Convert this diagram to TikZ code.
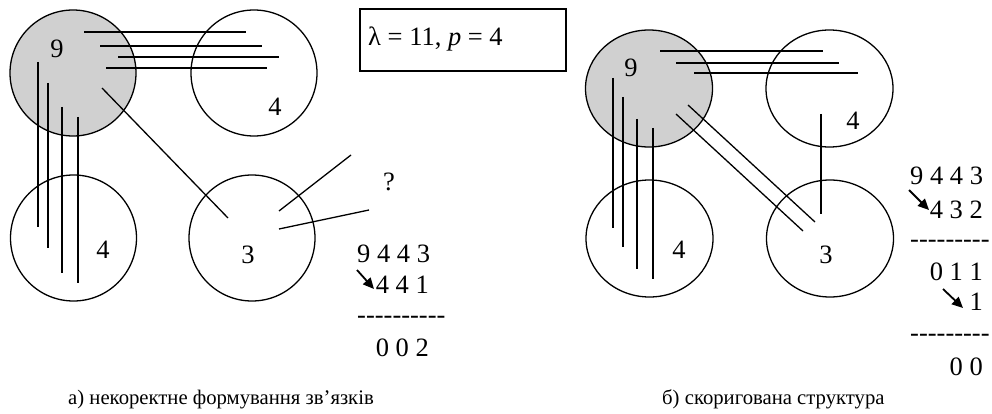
\documentclass[tikz,border=0pt]{standalone}
\usepackage{fontspec}
\setmainfont{Liberation Serif}[Ligatures=TeXOff]
\usetikzlibrary{shapes.geometric,arrows.meta}
\definecolor{hubgray}{RGB}{208,208,208}
\begin{document}
\begin{tikzpicture}[x=1pt,y=-1pt,
  ln/.style={line width=1.3pt},
  vtx/.style={circle,draw,line width=1.3pt,minimum size=126pt,inner sep=0pt},
  evtx/.style={ellipse,draw,line width=1.3pt,minimum width=127pt,minimum height=117pt,inner sep=0pt},
  hub/.style={fill=hubgray},
  num/.style={font=\fontsize{26.5}{30}\selectfont,inner sep=0pt},
  captxt/.style={font=\fontsize{20.7}{24}\selectfont,inner sep=0pt},
  arr/.style={line width=1.8pt,-{Triangle[length=11pt,width=10pt]}}]
\path[use as bounding box] (0,0) rectangle (992,414);

% ---------- left panel ----------
\node[vtx,hub] (a9) at (73,73) {};
\node[vtx] (a4t) at (254,73) {};
\node[vtx] (a4b) at (73.5,238) {};
\node[vtx] (a3) at (252,238) {};
\node[num,anchor=base] (a9l) at (57,58) {9};
\node[num,anchor=base] (a4tl) at (275,116) {4};
\node[num,anchor=base] (a4bl) at (103,258) {4};
\node[num,anchor=base] (a3l) at (248,263) {3};

\draw[ln] (84,32) -- (246,32);
\draw[ln] (100,46) -- (262,46);
\draw[ln] (118,57) -- (279,57);
\draw[ln] (106,68) -- (267,68);
\draw[ln] (38,62) -- (38,227);
\draw[ln] (48,83) -- (48,248);
\draw[ln] (62,107) -- (62,273);
\draw[ln] (78,117) -- (78,283);
\draw[ln] (102,88) -- (228,218);
\draw[ln] (279,211) -- (351,155);
\draw[ln] (279,229) -- (369,210);
\node[num,anchor=base] (q) at (389,190) {?};

\node[draw,line width=1.3pt,minimum width=206pt,minimum height=62pt,inner sep=0pt] (box) at (463,40) {};
\node[num,anchor=base west] (boxt) at (368,46) {λ = 11, \textit{p} = 4};

\node[num,anchor=base west] (l1) at (357,262) {9 4 4 3};
\node[num,anchor=base east] (l2) at (429,293) {4 4 1};
\node[num,anchor=base west] (l3) at (357,323) {----------};
\node[num,anchor=base east] (l4) at (429,356) {0 0 2};
\coordinate (la1) at (357,270);
\coordinate (la2) at (374,289);
\draw[arr] (la1) -- (la2);

\node[captxt,anchor=base west] (capa) at (68,404) {а) некоректне формування зв’язків};

% ---------- right panel ----------
\node[evtx,hub] (b9) at (649,88.5) {};
\node[evtx] (b4t) at (829.5,88.5) {};
\node[evtx] (b4b) at (649.5,238.5) {};
\node[evtx] (b3) at (830,238.5) {};
\node[num,anchor=base] (b9l) at (631,77) {9};
\node[num,anchor=base] (b4tl) at (853,130) {4};
\node[num,anchor=base] (b4bl) at (679,258) {4};
\node[num,anchor=base] (b3l) at (826,263) {3};

\draw[ln] (660,51) -- (823,51);
\draw[ln] (676,63) -- (839,63);
\draw[ln] (694,73) -- (858,73);
\draw[ln] (613,78) -- (613,228);
\draw[ln] (623,97) -- (623,247);
\draw[ln] (637,119) -- (637,269);
\draw[ln] (653,128) -- (653,279);
\draw[ln] (688,105) -- (815,222);
\draw[ln] (676,114) -- (803,231);
\draw[ln] (821,114) -- (821,214);

\node[num,anchor=base west] (r1) at (910,185) {9 4 4 3};
\node[num,anchor=base east] (r2) at (983,218) {4 3 2};
\node[num,anchor=base west] (r3) at (910,247) {---------};
\node[num,anchor=base east] (r4) at (983,280) {0 1 1};
\node[num,anchor=base east] (r5) at (983,310) {1};
\node[num,anchor=base west] (r6) at (910,341) {---------};
\node[num,anchor=base east] (r7) at (983,375) {0 0};
\coordinate (ra1) at (909,190);
\coordinate (ra2) at (929,210);
\coordinate (rb1) at (943,289);
\coordinate (rb2) at (963,308);
\draw[arr] (ra1) -- (ra2);
\draw[arr] (rb1) -- (rb2);

\node[captxt,anchor=base west] (capb) at (662,404) {б) скоригована структура};
\end{tikzpicture}
\end{document}
